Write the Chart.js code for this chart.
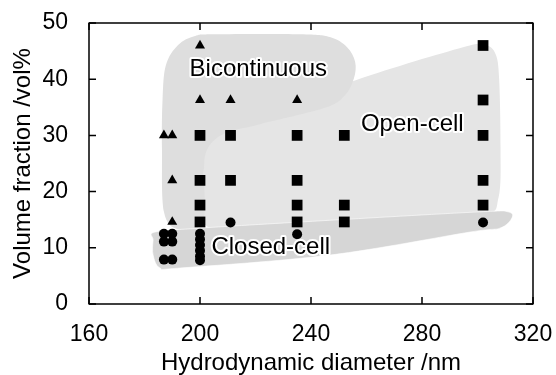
<!DOCTYPE html>
<html>
<head>
<meta charset="utf-8">
<script src="https://cdn.jsdelivr.net/npm/chart.js@4.4.1/dist/chart.umd.min.js"></script>
<style>
  html, body { margin: 0; background: #fff; }
  #wrap { width: 556px; height: 375px; }
</style>
</head>
<body>
<div id="wrap"><canvas id="myChart"></canvas></div>
<script>
// axis ticks
const xTicks = [160, 200, 240, 280, 320];
const yTicks = [0, 10, 20, 30, 40, 50];

// bicontinuous (triangles)
const biX = [200, 200, 211, 235, 187, 190, 190, 190];
const biY = [46, 36.3, 36.3, 36.3, 30, 30, 22, 14.6];

// open-cell (squares)
const openX = [200, 200, 200, 200, 211, 211, 235, 235, 235, 235, 252, 252, 252, 302, 302, 302, 302, 302];
const openY = [30, 22, 17.6, 14.6, 30, 22, 30, 22, 17.6, 14.6, 30, 17.6, 14.6, 46, 36.3, 30, 22, 17.6];

// closed-cell (circles)
const closedX = [187, 187, 187, 190, 190, 190, 200, 200, 200, 200, 200, 200, 211, 235, 302];
const closedY = [12.5, 11.1, 7.9, 12.5, 11.1, 7.9, 12.5, 11.5, 10.5, 9.5, 8.5, 7.8, 14.5, 12.4, 14.5];

// shaded regions, outline in data units
const openRegionX = [201.8, 201.4, 202.5, 207.2, 221.6, 256.6, 294.8, 302.7, 306.5, 307.8, 308.3, 307.6, 302, 272.1, 221.6];
const openRegionY = [14.1, 23.8, 28.3, 30.6, 33.1, 39.9, 45.7, 46.1, 44.5, 40, 28, 19, 15.8, 15.3, 14.1];
const biRegionX = [186.3, 186.5, 187.7, 192.1, 198.2, 205.4, 236, 246.8, 253, 255.9, 255.5, 252.3, 245, 221.6, 209, 202.9, 201.4, 201.1, 192.1, 187];
const biRegionY = [27.4, 36.3, 42.5, 46.1, 47.7, 48, 48, 47.5, 45.7, 43.1, 40.2, 37.2, 34.9, 32, 30.4, 27.8, 23.8, 14.6, 13.3, 16.4];
const closedRegionX = [183.8, 200, 246.8, 300.9, 311, 312.4, 308.1, 297.3, 246.8, 192.8, 185.6, 183.1, 183.1];
const closedRegionY = [12.8, 13.5, 14.9, 16.4, 16.4, 15.3, 13.5, 12.8, 8.7, 6.4, 6.4, 8.7, 11.4];

// region labels
const labelText = ['Bicontinuous', 'Open-cell', 'Closed-cell'];
const labelX = [221, 276.5, 225.5];
const labelY = [41.8, 32, 10];

const toPoints = (xs, ys) => xs.map((x, i) => ({x: x, y: ys[i]}));

const regions = [
  {xs: openRegionX, ys: openRegionY, color: '#e5e5e5'},
  {xs: biRegionX, ys: biRegionY, color: '#dedede'},
  {xs: closedRegionX, ys: closedRegionY, color: '#d6d6d6', edge: 'rgba(255,255,255,0.6)'},
];

const FONT = '"Liberation Sans", Arial, sans-serif';

const regionPlugin = {
  id: 'regions',
  beforeDatasetsDraw(chart) {
    const ctx = chart.ctx;
    const sx = chart.scales.x, sy = chart.scales.y;
    ctx.save();
    regions.forEach(r => {
      const pts = r.xs.map((x, i) => [sx.getPixelForValue(x), sy.getPixelForValue(r.ys[i])]);
      const n = pts.length;
      ctx.beginPath();
      ctx.moveTo(pts[0][0], pts[0][1]);
      for (let i = 0; i < n; i++) {
        const p0 = pts[(i - 1 + n) % n], p1 = pts[i], p2 = pts[(i + 1) % n], p3 = pts[(i + 2) % n];
        ctx.bezierCurveTo(
          p1[0] + (p2[0] - p0[0]) / 6, p1[1] + (p2[1] - p0[1]) / 6,
          p2[0] - (p3[0] - p1[0]) / 6, p2[1] - (p3[1] - p1[1]) / 6,
          p2[0], p2[1]);
      }
      ctx.closePath();
      ctx.fillStyle = r.color;
      ctx.fill();
      if (r.edge) {
        ctx.strokeStyle = r.edge;
        ctx.lineWidth = 1;
        ctx.stroke();
      }
    });
    ctx.restore();
  },
  afterDatasetsDraw(chart) {
    const ctx = chart.ctx;
    const sx = chart.scales.x, sy = chart.scales.y;
    const a = chart.chartArea;
    ctx.save();
    // labels with white halo
    ctx.font = '24px ' + FONT;
    ctx.textAlign = 'center';
    ctx.textBaseline = 'middle';
    ctx.lineJoin = 'round';
    labelText.forEach((t, i) => {
      const px = sx.getPixelForValue(labelX[i]), py = sy.getPixelForValue(labelY[i]);
      ctx.strokeStyle = '#fff';
      ctx.lineWidth = 4;
      ctx.strokeText(t, px, py);
      ctx.fillStyle = '#000';
      ctx.fillText(t, px, py);
    });
    // frame and inward ticks on all sides
    ctx.strokeStyle = '#000';
    ctx.lineWidth = 1.5;
    ctx.strokeRect(a.left, a.top, a.right - a.left, a.bottom - a.top);
    const len = 7;
    ctx.beginPath();
    xTicks.forEach(v => {
      const px = sx.getPixelForValue(v);
      ctx.moveTo(px, a.bottom); ctx.lineTo(px, a.bottom - len);
      ctx.moveTo(px, a.top); ctx.lineTo(px, a.top + len);
    });
    yTicks.forEach(v => {
      const py = sy.getPixelForValue(v);
      ctx.moveTo(a.left, py); ctx.lineTo(a.left + len, py);
      ctx.moveTo(a.right, py); ctx.lineTo(a.right - len, py);
    });
    ctx.stroke();
    ctx.restore();
  }
};

const ctx = document.getElementById('myChart').getContext('2d');
const chart = new Chart(ctx, {
  type: 'scatter',
  data: {
    datasets: [
      {
        label: 'Bicontinuous',
        data: toPoints(biX, biY),
        pointStyle: 'triangle',
        pointRadius: 5.8,
        backgroundColor: '#000',
        borderColor: '#000',
        borderWidth: 0,
      },
      {
        label: 'Open-cell',
        data: toPoints(openX, openY),
        pointStyle: 'rect',
        pointRadius: 7.6,
        backgroundColor: '#000',
        borderColor: '#000',
        borderWidth: 0,
      },
      {
        label: 'Closed-cell',
        data: toPoints(closedX, closedY),
        pointStyle: 'circle',
        pointRadius: 5,
        backgroundColor: '#000',
        borderColor: '#000',
        borderWidth: 0,
      },
    ]
  },
  options: {
    responsive: true,
    maintainAspectRatio: false,
    animation: false,
    layout: { padding: 0 },
    plugins: { legend: { display: false }, tooltip: { enabled: false } },
    scales: {
      x: {
        type: 'linear',
        min: 160, max: 320,
        afterBuildTicks: s => { s.ticks = xTicks.map(v => ({value: v})); },
        afterFit: s => { s.height = 71; s.paddingLeft = 0; s.paddingRight = 23; },
        grid: { display: false, drawTicks: false },
        border: { display: false },
        ticks: { color: '#000', padding: 17, font: { family: FONT, size: 23 } },
        title: { display: true, text: 'Hydrodynamic diameter /nm', color: '#000', padding: { top: 0, bottom: -3 }, font: { family: FONT, size: 24 } },
      },
      y: {
        type: 'linear',
        min: 0, max: 50,
        afterBuildTicks: s => { s.ticks = yTicks.map(v => ({value: v})); },
        afterFit: s => { s.width = 89; s.paddingTop = 23; s.paddingBottom = 0; },
        grid: { display: false, drawTicks: false },
        border: { display: false },
        ticks: { color: '#000', padding: 21, font: { family: FONT, size: 23 } },
        title: { display: true, text: 'Volume fraction /vol%', color: '#000', padding: { top: 9, bottom: 0 }, font: { family: FONT, size: 24 } },
      }
    }
  },
  plugins: [regionPlugin]
});
</script>
</body>
</html>
